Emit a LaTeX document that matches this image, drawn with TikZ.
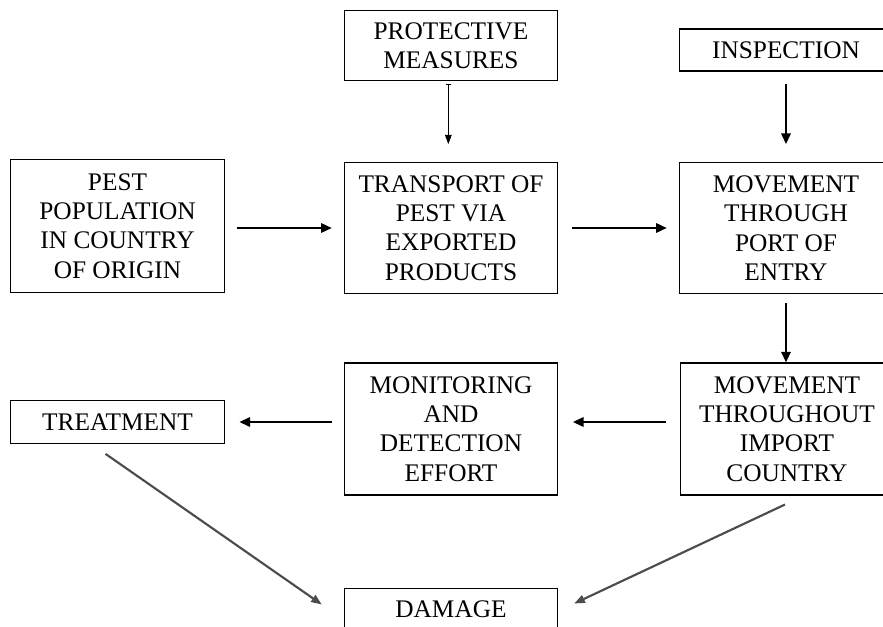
\documentclass[tikz,border=0pt]{standalone}
\usepackage{fontspec}
\setmainfont{Liberation Serif}
\usetikzlibrary{arrows.meta}
\begin{document}
\begin{tikzpicture}[x=0.75pt, y=-0.75pt,
    box/.style={draw, line width=0.8pt, minimum width=160pt, align=center, inner sep=2pt,
      font=\fontsize{19}{22.1}\selectfont},
    flow/.style={-{Triangle[length=8pt,width=7pt]}, line width=1.6pt},
    slant/.style={-{Triangle[length=8pt,width=6pt]}, line width=1.6pt, black!70}]
  \useasboundingbox (0,0) rectangle (883,627);
  % boxes: name / x / y / height / text
  \foreach \name/\x/\y/\h/\txt in {
      prot/451/45.5/53pt/{PROTECTIVE\\MEASURES},
      insp/786/50/31.5pt/{INSPECTION},
      pest/117.5/226/100pt/{PEST\\POPULATION\\IN COUNTRY\\OF ORIGIN},
      trans/451/228/98pt/{TRANSPORT OF\\PEST VIA\\EXPORTED\\PRODUCTS},
      port/786/228/98pt/{MOVEMENT\\THROUGH\\PORT OF\\ENTRY},
      treat/117.5/422/32pt/{TREATMENT},
      mon/451/429/99pt/{MONITORING\\AND\\DETECTION\\EFFORT},
      thru/787/429/99pt/{MOVEMENT\\THROUGHOUT\\IMPORT\\COUNTRY},
      dmg/451/609.5/32pt/{DAMAGE}} {
    \node[box, minimum height=\h] (\name) at (\x,\y) {\txt};
  }
  \draw[flow, shorten <=9pt, shorten >=9pt] (pest.east |- trans.west) -- (trans.west);
  \draw[flow, shorten <=10pt, shorten >=9pt] (trans.east) -- (port.west);
  \draw[{Bar[width=4pt]}-{Triangle[length=7pt,width=5pt]}, line width=0.6pt,
    shorten <=2pt, shorten >=13.5pt] ([xshift=-2pt]prot.south) -- ([xshift=-2pt]trans.north);
  \draw[flow, shorten <=9pt, shorten >=13.5pt] (insp.south) -- (port.north);
  \draw[flow, shorten <=7pt] (port.south) -- (port.south |- thru.north);
  \draw[flow, shorten <=10pt, shorten >=11pt] (thru.west |- treat.east) -- (mon.east |- treat.east);
  \draw[flow, shorten <=9pt, shorten >=11pt] (mon.west |- treat.east) -- (treat.east);
  \draw[slant] ([shift={(-12,10)}]treat.south) -- ([shift={(-22,-5)}]dmg.west);
  \draw[slant] ([shift={(-2,9)}]thru.south) -- ([shift={(16,-6)}]dmg.east);
\end{tikzpicture}
\end{document}
